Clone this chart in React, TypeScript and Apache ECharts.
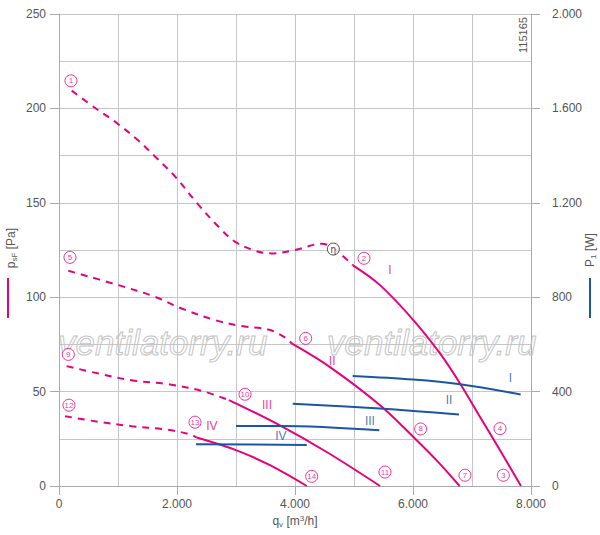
import React, { useEffect, useRef } from "react";
import * as echarts from "echarts";

const PINK = "#e6007e";
const BLUE = "#1a56a3";
const GRID = "#c6c6c6";
const AXIS = "#aaaaaa";
const TEXT = "#555555";
const FONT = "'Liberation Sans', Arial, sans-serif";

// pressure curves [q_v m3/h, p_sF Pa]
const curve1Dashed = [[215, 209.4], [667, 199], [949, 193], [1345, 183], [1627, 174.5], [1966, 164], [2361, 149], [2757, 135.6], [2983, 129.4], [3322, 124.6], [3605, 123.2], [4000, 125], [4452, 128.3], [4650, 126], [4977, 117]];
const curveISolid = [[4977, 117], [5441, 106.4], [6006, 87.9], [6458, 70.2], [6797, 54.3], [7136, 36.6], [7475, 18.9], [7830, 0]];
const curve5Dashed = [[158, 114], [1006, 106.4], [1627, 100.2], [2079, 94], [2644, 87.9], [3096, 84.7], [3548, 82.9], [3830, 78.7], [3944, 75.5]];
const curveIISolid = [[3944, 75.5], [4593, 63], [5441, 42.8], [6006, 26], [6401, 13.6], [6790, 0]];
const curve9Dashed = [[130, 63.5], [667, 59.6], [1232, 56], [1853, 53.9], [2418, 50.4], [2880, 45.5]];
const curveIIISolid = [[2880, 45.5], [3689, 33], [4537, 18], [5441, 0]];
const curve12Dashed = [[102, 37], [667, 34], [1232, 31.7], [1797, 30], [2220, 27.4], [2333, 25.7]];
const curveIVSolid = [[2333, 25.7], [3011, 18.9], [3576, 11], [4200, 0]];

// power curves [q_v m3/h, P1 W]
const powerI = [[4977, 466], [6006, 451], [6797, 431], [7825, 388]];
const powerII = [[3961, 349], [5441, 328], [6780, 303]];
const powerIII = [[3000, 254], [3746, 254], [5429, 236]];
const powerIV = [[2322, 177], [4198, 174]];

// circled point labels [q_v, p_sF, text]
const pointLabels: [number, number, string][] = [
  [203, 214.6, "1"], [5169, 120.6, "2"], [7531, 5.7, "3"], [7475, 30.4, "4"],
  [186, 121.1, "5"], [4181, 78.2, "6"], [6881, 5.7, "7"], [6130, 30.2, "8"],
  [158, 69.7, "9"], [3153, 48.6, "10"], [5525, 7.4, "11"], [169, 42.8, "12"],
  [2305, 33.8, "13"], [4283, 5.1, "14"],
];
const etaLabel: [number, number, string][] = [[4650, 125.5, "η"]];

// roman numerals [q_v, p_sF, text]
const pinkRoman: [number, number, string][] = [
  [5610, 114.5, "I"], [4630, 66.2, "II"], [3525, 42.8, "III"], [2590, 31.7, "IV"],
];
const blueRoman: [number, number, string][] = [
  [7650, 57.3, "I"], [6610, 45.6, "II"], [5270, 34.6, "III"], [3760, 26.7, "IV"],
];

const xTicks = { min: 0, max: 8000, interval: 2000 };
const pTicks = { min: 0, max: 250, interval: 50 };
const wTicks = { min: 0, max: 2000, interval: 400 };

const fmtThousands = (v: number) =>
  v >= 1000 ? `${Math.floor(v / 1000)}.${String(v % 1000).padStart(3, "0")}` : String(v);

export default function App() {
  const ref = useRef<HTMLDivElement>(null);
  useEffect(() => {
    document.body.style.margin = "0";
    const chart = echarts.init(ref.current!, undefined, { renderer: "svg" });

    const pinkLine = (data: number[][], dashed: boolean) => ({
      type: "line",
      yAxisIndex: 0,
      data,
      smooth: 0.35,
      showSymbol: false,
      symbol: "none",
      silent: true,
      lineStyle: { color: PINK, width: 2, type: dashed ? [7, 6] : "solid" },
      z: 3,
    });
    const blueLine = (data: number[][]) => ({
      type: "line",
      yAxisIndex: 1,
      data,
      smooth: 0.35,
      showSymbol: false,
      symbol: "none",
      silent: true,
      lineStyle: { color: BLUE, width: 2 },
      z: 3,
    });
    const textScatter = (items: [number, number, string][], color: string) => ({
      type: "scatter",
      yAxisIndex: 0,
      data: items.map((d) => ({ value: [d[0], d[1]], name: d[2] })),
      symbolSize: 1,
      itemStyle: { color: "transparent" },
      label: {
        show: true,
        position: "inside",
        formatter: (p: any) => p.name,
        color,
        fontSize: 12,
        fontFamily: FONT,
      },
      z: 5,
    });
    const circleScatter = (items: [number, number, string][], color: string, fs: number) => ({
      type: "scatter",
      yAxisIndex: 0,
      data: items.map((d) => ({ value: [d[0], d[1]], name: d[2] })),
      symbol: "circle",
      symbolSize: 12,
      itemStyle: { color: "#ffffff", borderColor: color, borderWidth: 1 },
      label: {
        show: true,
        position: "inside",
        formatter: (p: any) => p.name,
        color,
        fontSize: fs,
        fontFamily: FONT,
      },
      z: 6,
    });

    const axisCommon = {
      axisLine: { show: true, lineStyle: { color: AXIS, width: 1 } },
      axisTick: { show: true, length: 9, lineStyle: { color: AXIS } },
      minorTick: { show: false, splitNumber: 2 },
    };

    chart.setOption({
      animation: false,
      backgroundColor: "#ffffff",
      grid: { left: 59, right: 69, top: 14, bottom: 49 },
      xAxis: {
        type: "value",
        ...xTicks,
        ...axisCommon,
        axisLabel: { formatter: fmtThousands, color: TEXT, fontSize: 12, fontFamily: FONT, margin: 12 },
        splitLine: { show: true, lineStyle: { color: GRID } },
        minorSplitLine: { show: true, lineStyle: { color: GRID } },
      },
      yAxis: [
        {
          type: "value",
          position: "left",
          ...pTicks,
          ...axisCommon,
          axisLabel: { color: TEXT, fontSize: 12, fontFamily: FONT, margin: 13 },
          splitLine: { show: true, lineStyle: { color: GRID } },
          minorSplitLine: { show: true, lineStyle: { color: GRID } },
        },
        {
          type: "value",
          position: "right",
          ...wTicks,
          ...axisCommon,
          axisLabel: { formatter: fmtThousands, color: TEXT, fontSize: 12, fontFamily: FONT, margin: 21 },
          splitLine: { show: false },
        },
      ],
      graphic: [
        {
          type: "text", x: 58, y: 360, silent: true, z: 1,
          style: { text: "ventilatorry.ru", font: `italic 35px ${FONT}`, fill: "rgba(255,255,255,0)", stroke: "#c4c4c4", lineWidth: 1, textVerticalAlign: "bottom", verticalAlign: "bottom" },
        },
        {
          type: "text", x: 327, y: 360, silent: true, z: 1,
          style: { text: "ventilatorry.ru", font: `italic 35px ${FONT}`, fill: "rgba(255,255,255,0)", stroke: "#c4c4c4", lineWidth: 1, verticalAlign: "bottom" },
        },
        {
          type: "text", x: 523, y: 35, rotation: Math.PI / 2, silent: true,
          style: { text: "115165", fontSize: 11, fontFamily: FONT, fill: TEXT, align: "center", verticalAlign: "middle" },
        },
        {
          type: "text", x: 11, y: 248, rotation: Math.PI / 2, silent: true,
          style: {
            text: "{n|p}{s|sF}{n| [Pa]}",
            align: "center", verticalAlign: "middle", fill: TEXT,
            rich: {
              n: { fontSize: 12, fontFamily: FONT, fill: TEXT },
              s: { fontSize: 8, fontFamily: FONT, fill: TEXT, padding: [7, 0, 0, 0] },
            },
          },
        },
        { type: "line", silent: true, shape: { x1: 8, y1: 278, x2: 8, y2: 318 }, style: { stroke: PINK, lineWidth: 2 } },
        {
          type: "text", x: 590, y: 250, rotation: Math.PI / 2, silent: true,
          style: {
            text: "{n|P}{s|1}{n| [W]}",
            align: "center", verticalAlign: "middle", fill: TEXT,
            rich: {
              n: { fontSize: 12, fontFamily: FONT, fill: TEXT },
              s: { fontSize: 8, fontFamily: FONT, fill: TEXT, padding: [7, 0, 0, 0] },
            },
          },
        },
        { type: "line", silent: true, shape: { x1: 590, y1: 278, x2: 590, y2: 318 }, style: { stroke: BLUE, lineWidth: 2 } },
        {
          type: "text", x: 295, y: 521, silent: true,
          style: {
            text: "{n|q}{s|v}{n| [m}{p|3}{n|/h]}",
            align: "center", verticalAlign: "middle", fill: TEXT,
            rich: {
              n: { fontSize: 12, fontFamily: FONT, fill: TEXT },
              s: { fontSize: 8, fontFamily: FONT, fill: TEXT, padding: [7, 0, 0, 0] },
              p: { fontSize: 8, fontFamily: FONT, fill: TEXT, padding: [0, 0, 6, 0] },
            },
          },
        },
      ],
      series: [
        pinkLine(curve1Dashed, true),
        pinkLine(curveISolid, false),
        pinkLine(curve5Dashed, true),
        pinkLine(curveIISolid, false),
        pinkLine(curve9Dashed, true),
        pinkLine(curveIIISolid, false),
        pinkLine(curve12Dashed, true),
        pinkLine(curveIVSolid, false),
        blueLine(powerI),
        blueLine(powerII),
        blueLine(powerIII),
        blueLine(powerIV),
        textScatter(pinkRoman, PINK),
        textScatter(blueRoman, BLUE),
        circleScatter(pointLabels, PINK, 8),
        circleScatter(etaLabel, "#222222", 10),
      ],
    });
    return () => chart.dispose();
  }, []);
  return <div ref={ref} style={{ width: 600, height: 535 }} />;
}
